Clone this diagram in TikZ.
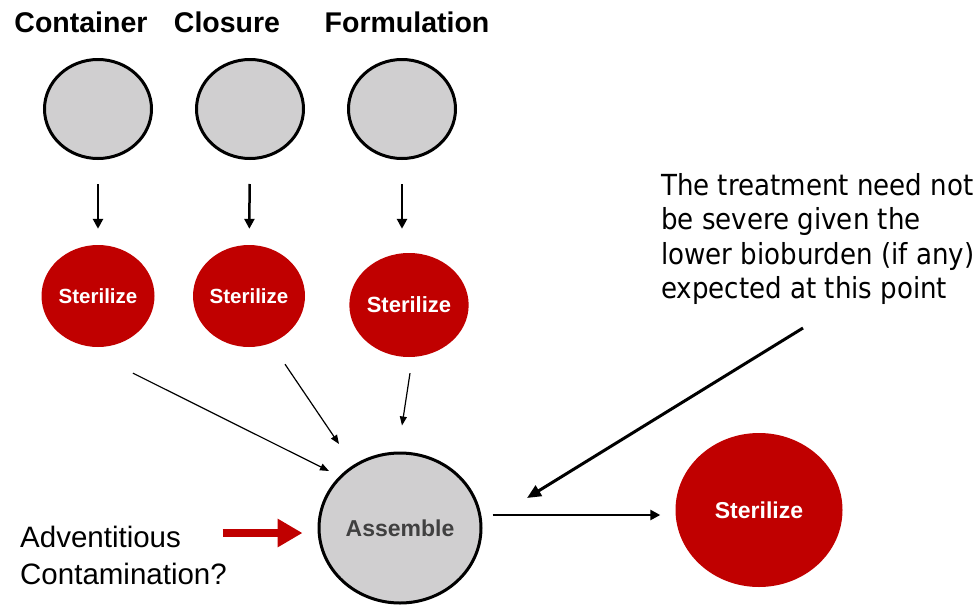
\documentclass[tikz,border=0pt]{standalone}
\usepackage{fontspec}
\setmainfont{Liberation Sans}
\newfontfamily\notefont{DejaVu Sans Condensed}
\usetikzlibrary{shapes.geometric,arrows.meta}
\definecolor{sterred}{RGB}{192,0,0}
\definecolor{partgray}{RGB}{208,207,208}
\definecolor{labelgray}{RGB}{64,64,64}
\begin{document}
\begin{tikzpicture}[x=1pt,y=-1pt,
  heading/.style={font=\bfseries\fontsize{28.5}{32}\selectfont,inner sep=0pt},
  partnode/.style={ellipse,draw=black,line width=3pt,fill=partgray,inner sep=0pt,
    minimum width=107pt,minimum height=99pt},
  sterilnode/.style={ellipse,fill=sterred,inner sep=0pt,text=white,
    font=\bfseries\fontsize{20.5}{24}\selectfont},
  feed/.style={-{Triangle[length=10pt,width=10pt]},line width=2.5pt},
  merge/.style={-{Triangle[length=9pt,width=7pt]},line width=1.2pt},
  outflow/.style={-{Triangle[length=10pt,width=10pt]},line width=2.8pt},
  remark/.style={-{Triangle[length=14pt,width=12pt]},line width=3pt},
  hazard/.style={-{Triangle[length=25pt,width=27pt]},line width=8pt,draw=sterred},
]
\useasboundingbox (0,0) rectangle (980,608);

% column headings
\node[heading] (hcont) at (81,22) {Container};
\node[heading] (hclos) at (227,22) {Closure};
\node[heading] (hform) at (407,22) {Formulation};

% incoming components
\node[partnode] (c1) at (98,109) {};
\node[partnode] (c2) at (250,109) {};
\node[partnode] (c3) at (402,109) {};

% individual sterilization steps
\node[sterilnode,minimum width=113pt,minimum height=102pt] (s1) at (98,296) {Sterilize};
\node[sterilnode,minimum width=112pt,minimum height=102pt] (s2) at (249,296) {Sterilize};
\node[sterilnode,minimum width=112pt,minimum height=104pt,
  font=\bfseries\fontsize{22}{26}\selectfont] (s3) at (409,305) {Sterilize};

% assembly and terminal sterilization
\node[ellipse,draw=black,line width=3pt,fill=partgray,inner sep=0pt,
  minimum width=162pt,minimum height=150pt,text=labelgray,
  font=\bfseries\fontsize{23}{26}\selectfont] (asm) at (400,528) {Assemble};
\node[sterilnode,minimum width=167pt,minimum height=154pt,
  font=\bfseries\fontsize{23}{26}\selectfont] (s4) at (759,510) {Sterilize};

% side texts
\node[anchor=north west,inner sep=0pt,align=left,
  font=\fontsize{29.5}{36.5}\selectfont] (adv) at (20,526) {Adventitious\\Contamination?};
\node[anchor=north west,inner sep=0pt,align=left,
  font=\notefont\fontsize{29}{34.5}\selectfont] (note) at (661,173)
  {The treatment need not\\be severe given the\\lower bioburden (if any)\\expected at this point};

% component -> sterilize
\draw[feed,shorten <=24pt,shorten >=16pt] (c1) -- (s1);
\draw[feed,shorten <=24pt,shorten >=16pt] (c2) -- (s2);
\draw[feed,shorten <=24pt,shorten >=24pt] (c3.south) -- (c3.south |- s3.north);

% sterilized parts -> assembly
\draw[merge] ([shift={(35,26)}]s1.south) -- ([shift={(-71,-57)}]asm.center);
\draw[merge] ([shift={(36,17)}]s2.south) -- ([shift={(-61,-84)}]asm.center);
\draw[merge] ([shift={(1,16)}]s3.south) -- ([shift={(2,-26)}]asm.north);

% assembly -> final sterilization
\draw[outflow] ([shift={(10,-13)}]asm.east) -- ([shift={(-15,5)}]s4.west);

% remark pointer
\draw[remark] ([shift={(142,155)}]note.north west) -- ([shift={(127,-30)}]asm.center);

% contamination risk
\draw[hazard] ([shift={(-95,5)}]asm.west) -- ([shift={(-15,5)}]asm.west);
\end{tikzpicture}
\end{document}
